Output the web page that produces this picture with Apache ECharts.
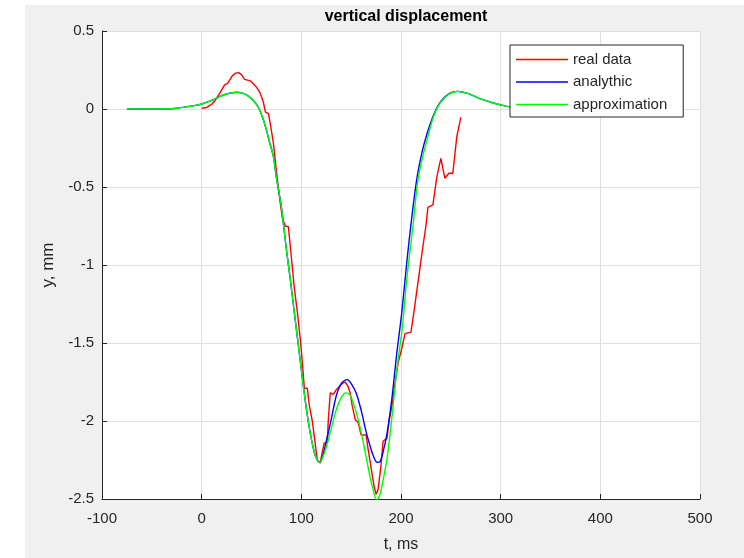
<!DOCTYPE html>
<html>
<head>
<meta charset="utf-8">
<script src="https://cdn.jsdelivr.net/npm/echarts/dist/echarts.min.js"></script>
<style>
  html, body { margin: 0; padding: 0; background: #fff; }
  #chart { position: absolute; left: 25px; top: 5px; width: 719px; height: 553px; }
</style>
</head>
<body>
<div id="chart"></div>
<script>
// real data (measured)
const realT = [0, 5, 10, 13, 15, 18, 20, 23, 26, 28, 31, 34, 37, 40, 43, 46, 49, 52, 55, 58, 60, 62, 64, 67, 69, 72, 75, 78, 81, 84, 87,
  90, 93, 96, 99, 101, 103, 106, 108, 111, 113, 116, 119, 121, 123, 126, 127, 129, 132, 135, 138, 141, 144, 147, 149, 151, 154,
  157, 160, 165, 167, 170, 173, 175, 177, 180, 182, 186, 188, 191, 194, 197, 201, 204, 210, 213, 216, 219, 222, 225, 227, 232,
  236, 240, 244, 248, 252, 256, 260]
const realY = [0.005, 0.01, 0.03, 0.05, 0.07, 0.1, 0.11, 0.155, 0.165, 0.17, 0.215, 0.23, 0.233, 0.22, 0.19, 0.185, 0.18, 0.16,
  0.14, 0.11, 0.08, 0.04, -0.02, -0.03, -0.1, -0.22, -0.4, -0.56, -0.7, -0.75, -0.755,
  -0.95, -1.15, -1.3, -1.48, -1.62, -1.79, -1.79, -1.9, -2.0, -2.1, -2.25, -2.27, -2.2, -2.14, -2.14, -2.0, -1.82, -1.83, -1.8,
  -1.78, -1.76, -1.75, -1.78, -1.82, -1.9, -1.99,
  -2.01, -2.09, -2.09, -2.18, -2.3, -2.42, -2.47, -2.44, -2.28, -2.13, -2.11, -2.0, -1.9, -1.76, -1.63, -1.53, -1.44, -1.43,
  -1.3, -1.16, -1.02, -0.88, -0.75, -0.63, -0.615,
  -0.434, -0.316, -0.444, -0.412, -0.412, -0.177, -0.054]

// analytic solution
const analyticT = [-75, -50, -35, -25, -15, -5, 0, 10, 15, 20, 25, 30, 35, 40, 45, 50, 55, 58, 62, 65, 68, 72, 75, 80, 85, 89,
  95, 100, 105, 109, 113, 116, 118.5, 121, 125, 130, 135, 140, 146, 150, 155, 160, 165, 169, 172, 176, 179, 182, 186, 190.7,
  195.7, 200.7, 205.7, 210, 215.7, 221, 226, 232, 237, 242, 247, 252, 257, 262, 267, 275, 283, 292, 300, 310, 320]
const analyticY = [0, 0, 0.001, 0.005, 0.014, 0.025, 0.032, 0.055, 0.07, 0.085, 0.096, 0.103, 0.107, 0.103, 0.09, 0.066, 0.03,
  -0.005, -0.07, -0.135, -0.21, -0.306, -0.44, -0.63, -0.9, -1.096,
  -1.41, -1.67, -1.92, -2.08, -2.2, -2.25, -2.265, -2.235, -2.13, -1.99, -1.84, -1.76, -1.735, -1.76, -1.82, -1.93, -2.07,
  -2.16, -2.22, -2.265, -2.26, -2.2, -2.08, -1.865,
  -1.57, -1.31, -0.99, -0.74, -0.455, -0.28, -0.16, -0.05, 0.02, 0.065, 0.093, 0.108, 0.113, 0.108, 0.1, 0.078, 0.058,
  0.04, 0.026, 0.012, 0.005]

// approximation
const approxT = [-75, -50, -35, -25, -15, -5, 0, 10, 15, 20, 25, 30, 35, 40, 45, 50, 55, 58, 62, 65, 68, 72, 75, 80, 85, 89,
  95, 100, 105, 109, 113, 116, 118.5, 121, 125, 130, 135, 140, 145, 149, 153, 157, 161, 165, 169, 172, 175.5, 179, 182, 186,
  191, 196, 201, 206, 212, 217, 222, 227, 232, 237, 242, 247, 252, 257, 262, 267, 275, 283, 292, 300, 310, 320]
const approxY = [0, 0, 0.001, 0.005, 0.014, 0.025, 0.032, 0.055, 0.07, 0.085, 0.096, 0.103, 0.107, 0.103, 0.09, 0.066, 0.03,
  -0.005, -0.07, -0.135, -0.21, -0.306, -0.44, -0.63, -0.9, -1.096,
  -1.41, -1.67, -1.92, -2.08, -2.2, -2.25, -2.265, -2.24, -2.17, -2.05, -1.93, -1.85, -1.82, -1.835, -1.9, -1.99, -2.1,
  -2.23, -2.36, -2.44, -2.51, -2.47, -2.38, -2.24,
  -1.97, -1.66, -1.42, -1.08, -0.75, -0.455, -0.3, -0.177, -0.06, 0.015, 0.06, 0.09, 0.107, 0.113, 0.108, 0.1, 0.078, 0.058,
  0.04, 0.026, 0.012, 0.005]

const xTicks = [-100, 0, 100, 200, 300, 400, 500]
const yTicks = [-2.5, -2, -1.5, -1, -0.5, 0, 0.5]

const zip = (a, b) => a.map((v, i) => [v, b[i]])
const fontFamily = '"Liberation Sans", Arial, sans-serif'
const ink = '#262626'

const chart = echarts.init(document.getElementById('chart'))
chart.setOption({
  animation: false,
  backgroundColor: '#f0f0f0',
  textStyle: { fontFamily: fontFamily },
  title: {
    text: 'vertical displacement',
    left: 376,
    textAlign: 'center',
    top: -1,
    textStyle: { fontSize: 16, fontWeight: 'bold', color: '#000', fontFamily: fontFamily }
  },
  grid: {
    left: 77,
    right: 44,
    top: 26,
    bottom: 58,
    show: true,
    backgroundColor: '#fff',
    borderWidth: 0
  },
  legend: {
    orient: 'vertical',
    left: 485,
    top: 40,
    padding: [7, 16, 5, 6],
    itemGap: 7.5,
    itemWidth: 52,
    itemHeight: 1.5,
    icon: 'rect',
    backgroundColor: '#fff',
    borderColor: ink,
    borderWidth: 1,
    borderRadius: 0,
    textStyle: { fontSize: 15, color: ink, fontFamily: fontFamily },
    data: ['real data', 'analythic', 'approximation']
  },
  xAxis: {
    type: 'value',
    min: xTicks[0],
    max: xTicks[xTicks.length - 1],
    interval: 100,
    name: 't, ms',
    nameLocation: 'middle',
    nameGap: 38,
    nameTextStyle: { fontSize: 16, color: ink },
    axisLine: { onZero: false, lineStyle: { color: ink, width: 1 } },
    axisTick: { inside: true, length: 5, lineStyle: { color: ink } },
    axisLabel: { fontSize: 15, color: ink, margin: 12 },
    splitLine: { show: true, lineStyle: { color: '#dfdfdf', width: 1 } }
  },
  yAxis: {
    type: 'value',
    min: yTicks[0],
    max: yTicks[yTicks.length - 1],
    interval: 0.5,
    name: 'y, mm',
    nameLocation: 'middle',
    nameGap: 45,
    nameTextStyle: { fontSize: 17, color: ink },
    axisLine: { show: true, onZero: false, lineStyle: { color: ink, width: 1 } },
    axisTick: { show: true, inside: true, length: 5, lineStyle: { color: ink } },
    axisLabel: { fontSize: 15, color: ink, margin: 8 },
    splitLine: { show: true, lineStyle: { color: '#dfdfdf', width: 1 } }
  },
  series: [
    {
      name: 'real data',
      type: 'line',
      data: zip(realT, realY),
      symbol: 'none',
      color: '#ff0000',
      lineStyle: { color: '#ff0000', width: 1.4 }
    },
    {
      name: 'analythic',
      type: 'line',
      data: zip(analyticT, analyticY),
      symbol: 'none',
      smooth: 0.3,
      color: '#0000ff',
      lineStyle: { color: '#0000ff', width: 1.4 }
    },
    {
      name: 'approximation',
      type: 'line',
      data: zip(approxT, approxY),
      symbol: 'none',
      smooth: 0.3,
      color: '#00ff00',
      lineStyle: { color: '#00ff00', width: 1.4 }
    }
  ]
})
</script>
</body>
</html>
